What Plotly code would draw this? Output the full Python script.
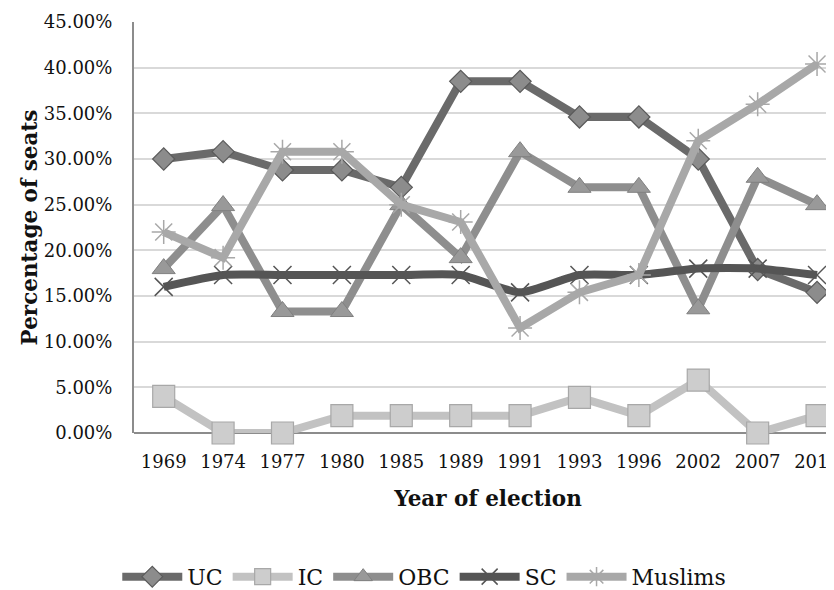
import plotly.graph_objects as go

# election years (category axis)
years = ['1969', '1974', '1977', '1980', '1985', '1989', '1991',
         '1993', '1996', '2002', '2007', '2012']

# share of seats, in percent
uc = [30.0, 30.8, 28.8, 28.8, 26.9, 38.5, 38.5, 34.6, 34.6, 30.0, 17.9, 15.4]
ic = [4.0, 0.0, 0.0, 1.9, 1.9, 1.9, 1.9, 3.9, 1.9, 5.8, 0.0, 1.9]
obc = [18.0, 24.9, 13.3, 13.3, 25.0, 19.2, 30.8, 26.9, 26.9, 13.6, 28.0, 25.0]
sc = [16.0, 17.3, 17.3, 17.3, 17.3, 17.3, 15.4, 17.3, 17.3, 18.0, 18.0, 17.3]
muslims = [22.0, 19.2, 30.8, 30.8, 25.0, 23.1, 11.5, 15.4, 17.3, 32.0, 36.0, 40.4]

FONT = 'DejaVu Serif'

series = [
    ('UC', uc, '#6a6a6a', dict(symbol='diamond', size=17, color='#8c8c8c',
                               line=dict(color='#5a5a5a', width=1.2)), 'linear'),
    ('IC', ic, '#c2c2c2', dict(symbol='square', size=22, color='#cdcdcd',
                               line=dict(color='#a8a8a8', width=1.2)), 'linear'),
    ('OBC', obc, '#8e8e8e', dict(symbol='triangle-up', size=20, color='#999999',
                                 line=dict(color='#808080', width=1)), 'linear'),
    ('SC', sc, '#555555', dict(symbol='x-thin-open', size=18,
                               line=dict(color='#3c3c3c', width=1.5)), 'spline'),
    ('Muslims', muslims, '#a8a8a8', dict(symbol='asterisk-open', size=20,
                                         line=dict(color='#9a9a9a', width=1.5)), 'linear'),
]

fig = go.Figure()
for name, vals, col, marker, shape in series:
    fig.add_trace(go.Scatter(x=years, y=vals, name=name, mode='lines+markers',
                             line=dict(color=col, width=8, shape=shape, smoothing=0.6),
                             marker=marker, cliponaxis=False))

# page body adds an 8px offset, so margins are shifted by that amount
fig.update_layout(
    width=834, height=590,
    margin=dict(l=126, r=0, t=14, b=165, autoexpand=False),
    paper_bgcolor='white', plot_bgcolor='white',
    font=dict(family=FONT, size=18, color='#111111'),
    showlegend=True,
    legend=dict(orientation='h', x=0.41, xref='paper', xanchor='center',
                y=-0.35, yanchor='middle', font=dict(size=22),
                itemwidth=60, tracegroupgap=0),
)
fig.update_xaxes(
    type='category', range=[-0.5, 11.42], automargin=False,
    showgrid=False, showline=False, zeroline=False,
    ticks='', ticklabelstandoff=16, tickfont=dict(size=18),
    title=dict(text='<b>Year of election</b>', font=dict(size=21.5), standoff=19),
)
fig.update_yaxes(
    range=[0, 45], dtick=5, tickformat='.2f', ticksuffix='%', automargin=False,
    showgrid=True, gridcolor='#d9d9d9', gridwidth=1.5,
    showline=True, linecolor='#8c8c8c', linewidth=2,
    zeroline=True, zerolinecolor='#8c8c8c', zerolinewidth=2,
    ticks='', ticklabelstandoff=16, tickfont=dict(size=18),
    title=dict(text='<b>Percentage of seats</b>', font=dict(size=21.5), standoff=0),
)

fig.write_html('out.html')
